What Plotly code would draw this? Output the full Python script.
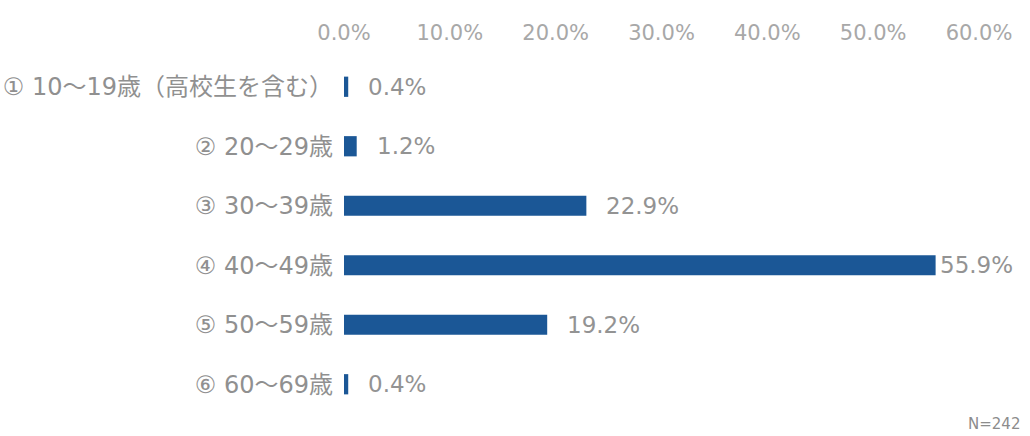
import plotly.graph_objects as go

# Age groups of respondents (N=242), share in percent
categories = [
    "① 10～19歳（高校生を含む）",
    "② 20～29歳",
    "③ 30～39歳",
    "④ 40～49歳",
    "⑤ 50～59歳",
    "⑥ 60～69歳",
]
values = [0.4, 1.2, 22.9, 55.9, 19.2, 0.4]
value_labels = ["0.4%", "1.2%", "22.9%", "55.9%", "19.2%", "0.4%"]
tick_vals = [0, 10, 20, 30, 40, 50, 60]
tick_text = ["0.0%", "10.0%", "20.0%", "30.0%", "40.0%", "50.0%", "60.0%"]

BAR = "#1b5796"
FONT = "DejaVu Sans, Noto Sans CJK JP, sans-serif"

fig = go.Figure(
    go.Bar(
        x=values,
        y=categories,
        orientation="h",
        width=0.34,
        marker=dict(color=BAR, line=dict(width=0)),
        hoverinfo="skip",
    )
)

# Value labels to the right of each bar
for cat, v, lab in zip(categories, values, value_labels):
    fig.add_annotation(
        x=v, y=cat, text=lab, showarrow=False,
        xanchor="left", yanchor="middle",
        xshift=2 if v > 50 else 18,
        font=dict(family=FONT, size=23, color="#939393"),
    )

fig.add_annotation(
    xref="paper", yref="paper", x=1.068, y=-0.028,
    text="N=242", showarrow=False, xanchor="right", yanchor="middle",
    font=dict(family=FONT, size=15, color="#8c8c8c"),
)

fig.update_layout(
    width=1030,
    height=436,
    margin=dict(l=344, r=51, t=57, b=22),
    paper_bgcolor="white",
    plot_bgcolor="white",
    showlegend=False,
    xaxis=dict(
        side="top",
        range=[0, 60],
        tickvals=tick_vals,
        ticktext=tick_text,
        showgrid=False,
        zeroline=False,
        showline=False,
        ticks="",
        tickfont=dict(family=FONT, size=21, color="#a8a8a8"),
        ticklabelstandoff=12,
        automargin=False,
        fixedrange=True,
    ),
    yaxis=dict(
        autorange="reversed",
        showgrid=False,
        zeroline=False,
        showline=False,
        ticks="",
        tickfont=dict(family=FONT, size=24, color="#909090"),
        ticklabelstandoff=10,
        automargin=False,
        fixedrange=True,
    ),
)

fig.write_html("out.html")
